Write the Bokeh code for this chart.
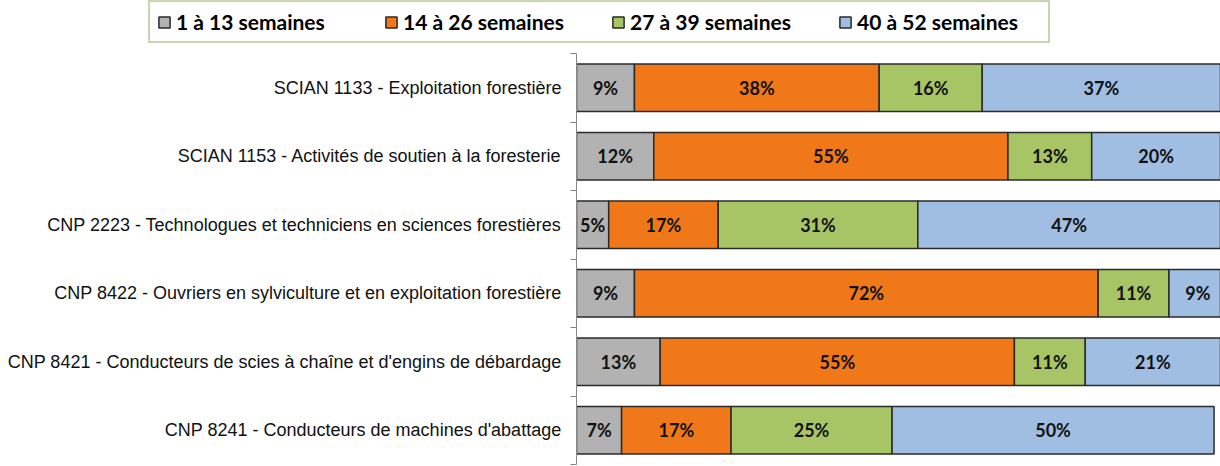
from bokeh.plotting import figure
from bokeh.layouts import column, row
from bokeh.models import ColumnDataSource, Range1d, FixedTicker, Legend, LegendItem
from bokeh.core.properties import value
from bokeh.embed import file_html
from bokeh.resources import INLINE

categories = [
    "SCIAN 1133 - Exploitation forestière",
    "SCIAN 1153 - Activités de soutien à la foresterie",
    "CNP 2223 - Technologues et techniciens en sciences forestières",
    "CNP 8422 - Ouvriers en sylviculture et en exploitation forestière",
    "CNP 8421 - Conducteurs de scies à chaîne et d'engins de débardage",
    "CNP 8241 - Conducteurs de machines d'abattage",
]
series_names = ["1 à 13 semaines", "14 à 26 semaines", "27 à 39 semaines", "40 à 52 semaines"]
s1 = [9, 12, 5, 9, 13, 7]
s2 = [38, 55, 17, 72, 55, 17]
s3 = [16, 13, 31, 11, 11, 25]
s4 = [37, 20, 47, 9, 21, 50]
colors = ["#B2B2B2", "#F07818", "#A8C566", "#A0BEE2"]
edge = "#2a2a2a"

series = [s1, s2, s3, s4]
keys = ["s1", "s2", "s3", "s4"]
n = len(categories)
ypos = [n - i - 0.5 for i in range(n)]

src = ColumnDataSource(dict(y=ypos, s1=s1, s2=s2, s3=s3, s4=s4))

# ---- main chart ----
p = figure(width=1220, height=413, output_backend="svg", toolbar_location=None,
           x_range=Range1d(0, 100), y_range=Range1d(0, n),
           x_axis_location=None,
           min_border_left=576, min_border_right=0, min_border_top=0, min_border_bottom=2)

p.hbar_stack(keys, y="y", height=0.69, color=colors, source=src,
             line_color=edge, line_width=1.5)

lx, ly, lt = [], [], []
cum = [0] * n
for s in series:
    for i, v in enumerate(s):
        lx.append(cum[i] + v / 2)
        ly.append(ypos[i])
        lt.append(f"{v}%")
        cum[i] += v
p.text(x="x", y="y", text="t", source=ColumnDataSource(dict(x=lx, y=ly, t=lt)),
       text_align="center", text_baseline="middle", text_font=value("Lato"),
       text_font_style="bold", text_font_size="18px", text_color="#111111")

yaxis = p.yaxis[0]
yaxis.ticker = FixedTicker(ticks=ypos, minor_ticks=list(range(n + 1)))
yaxis.major_label_overrides = {y: c for y, c in zip(ypos, categories)}
yaxis.major_tick_out = 0
yaxis.major_tick_in = 0
yaxis.minor_tick_out = 6
yaxis.minor_tick_in = 0
yaxis.minor_tick_line_color = "#868686"
yaxis.axis_line_color = "#868686"
yaxis.major_label_text_font = "Liberation Sans"
yaxis.major_label_text_font_size = "18px"
yaxis.major_label_text_color = "#111111"
yaxis.major_label_standoff = 9

p.grid.visible = False
p.outline_line_color = None

# ---- legend strip (same series, hidden renderers used only as legend keys) ----
lg = figure(width=1220, height=53, output_backend="svg", toolbar_location=None,
            x_range=Range1d(0, 100), y_range=Range1d(0, n),
            x_axis_location=None, y_axis_location=None,
            min_border_left=0, min_border_right=0, min_border_top=0, min_border_bottom=0)
lg.grid.visible = False
lg.outline_line_color = None
leg_renderers = lg.hbar_stack(keys, y="y", height=0.69, color=colors, source=src,
                              line_color=edge, line_width=1.5)
for r in leg_renderers:
    r.visible = False

legend = Legend(
    items=[LegendItem(label=nm, renderers=[r]) for nm, r in zip(series_names, leg_renderers)],
    orientation="horizontal", location=(148, 10),
    label_text_font="Lato", label_text_font_style="bold", label_text_font_size="21px",
    label_text_color="#000000", glyph_width=14, glyph_height=14, label_standoff=5,
    label_width=184, spacing=24, padding=7, margin=0,
    border_line_color="#8FAE5A", border_line_width=2, background_fill_alpha=1,
)
lg.add_layout(legend)

layout = column(row(lg, spacing=0), p, spacing=0)
open("out.html", "w").write(file_html(layout, INLINE))
